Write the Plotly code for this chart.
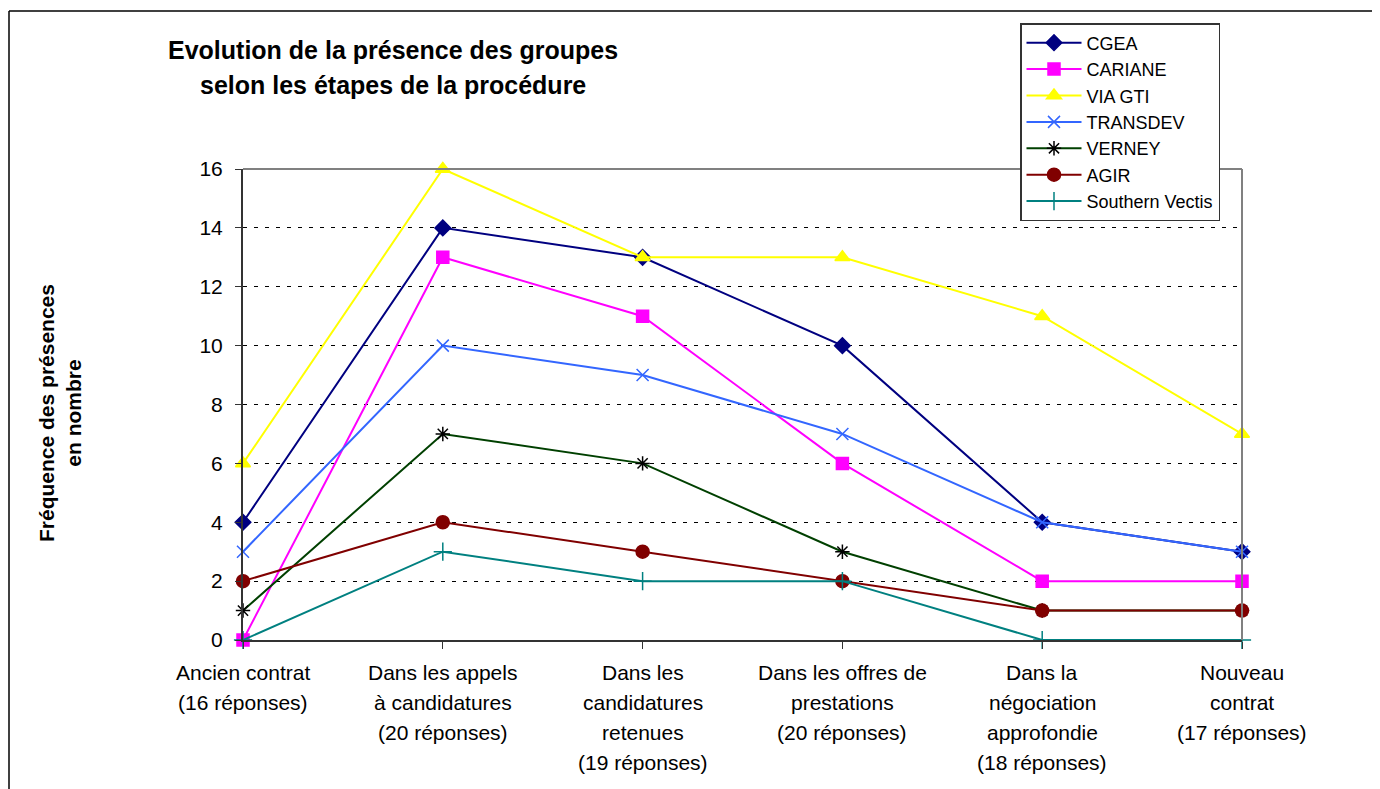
import plotly.graph_objects as go

categories = [
    "Ancien contrat<br>(16 réponses)",
    "Dans les appels<br>à candidatures<br>(20 réponses)",
    "Dans les<br>candidatures<br>retenues<br>(19 réponses)",
    "Dans les offres de<br>prestations<br>(20 réponses)",
    "Dans la<br>négociation<br>approfondie<br>(18 réponses)",
    "Nouveau<br>contrat<br>(17 réponses)",
]
series_names = ["CGEA", "CARIANE", "VIA GTI", "TRANSDEV", "VERNEY", "AGIR", "Southern Vectis"]
cgea = [4, 14, 13, 10, 4, 3]
cariane = [0, 13, 11, 6, 2, 2]
via_gti = [6, 16, 13, 13, 11, 7]
transdev = [3, 10, 9, 7, 4, 3]
verney = [1, 7, 6, 3, 1, 1]
agir = [2, 4, 3, 2, 1, 1]
southern_vectis = [0, 3, 2, 2, 0, 0]
y_ticks = [0, 2, 4, 6, 8, 10, 12, 14, 16]
title_lines = ["Evolution de la présence des groupes", "selon les étapes de la procédure"]
y_title = "Fréquence des présences<br>en nombre"

values = [cgea, cariane, via_gti, transdev, verney, agir, southern_vectis]
line_colors = ["#000080", "#FF00FF", "#FFFF00", "#3366FF", "#004000", "#800000", "#008080"]
marker_colors = ["#000080", "#FF00FF", "#FFFF00", "#3366FF", "#000000", "#800000", "#008080"]
symbols = ["diamond", "square", "triangle-up", "x-thin-open", "asterisk-open", "circle", "cross-thin-open"]
sizes = [12, 12, 13, 12, 12, 13, 13]

FONT = "Liberation Sans, Arial, sans-serif"
xs = list(range(len(categories)))

# page-pixel -> paper helpers (plot area in page px: x 243..1242, y 169..640)
def px(x):
    return (x - 243) / 999

def py(y):
    return (640 - y) / 471

fig = go.Figure()
for name, vals, lc, mc, sym, sz in zip(series_names, values, line_colors, marker_colors, symbols, sizes):
    fig.add_trace(go.Scatter(
        x=xs, y=vals, name=name, mode="lines+markers",
        line=dict(color=lc, width=2),
        marker=dict(symbol=sym, size=sz, color=mc, line=dict(color=mc, width=1.5)),
        cliponaxis=False,
    ))

# category labels (multi-line, Excel-like spacing)
for i, cat in enumerate(categories):
    for j, part in enumerate(cat.split("<br>")):
        fig.add_annotation(x=i, xref="x", y=0, yref="paper", text=part,
                           showarrow=False, yanchor="middle", yshift=-32 - 30 * j,
                           font=dict(family=FONT, size=21, color="black"))

# title (two lines)
for j, line in enumerate(title_lines):
    fig.add_annotation(x=px(393), xref="paper", y=py(50 + 35 * j), yref="paper",
                       text="<b>" + line + "</b>", showarrow=False,
                       xanchor="center", yanchor="middle",
                       font=dict(family=FONT, size=25, color="black"))
# y-axis title
fig.add_annotation(x=px(60), xref="paper", y=py(413), yref="paper",
                   text="<b>" + y_title + "</b>", textangle=-90,
                   showarrow=False, xanchor="center", yanchor="middle",
                   font=dict(family=FONT, size=21, color="black"))

# plot area top/right border (gray) and outer chart frame
fig.add_shape(type="line", xref="paper", yref="paper", x0=0, x1=1, y0=1, y1=1,
              line=dict(color="#808080", width=2))
fig.add_shape(type="line", xref="paper", yref="paper", x0=1, x1=1, y0=0, y1=1,
              line=dict(color="#808080", width=2))
fig.add_shape(type="line", xref="paper", yref="paper", x0=px(9), x1=px(1400),
              y0=py(11), y1=py(11), line=dict(color="black", width=1.5))
fig.add_shape(type="line", xref="paper", yref="paper", x0=px(9), x1=px(9),
              y0=py(800), y1=py(11), line=dict(color="black", width=1.5))

fig.update_layout(
    width=1380, height=789,
    margin=dict(l=235, r=146, t=161, b=157),
    paper_bgcolor="white", plot_bgcolor="white",
    font=dict(family=FONT, size=18, color="black"),
    showlegend=True,
    legend=dict(x=px(1020), y=py(23), xanchor="left", yanchor="top",
                bgcolor="white", bordercolor="#333333", borderwidth=1.5,
                font=dict(family=FONT, size=18, color="black"),
                tracegroupgap=0, itemwidth=55),
    xaxis=dict(range=[0, 5], tickvals=xs, ticktext=[""] * len(xs),
               showgrid=False, zeroline=False, showline=True, linecolor="#333333", linewidth=2,
               ticks="outside", ticklen=7, tickcolor="#333333"),
    yaxis=dict(range=[0, 16], tickvals=y_ticks, showgrid=True, gridcolor="black", gridwidth=1,
               griddash="4px,7px", zeroline=False, showline=True, linecolor="#333333", linewidth=2,
               ticks="outside", ticklen=6, tickcolor="#333333", ticklabelstandoff=8,
               tickfont=dict(family=FONT, size=21, color="black")),
)

fig.write_html("out.html")
